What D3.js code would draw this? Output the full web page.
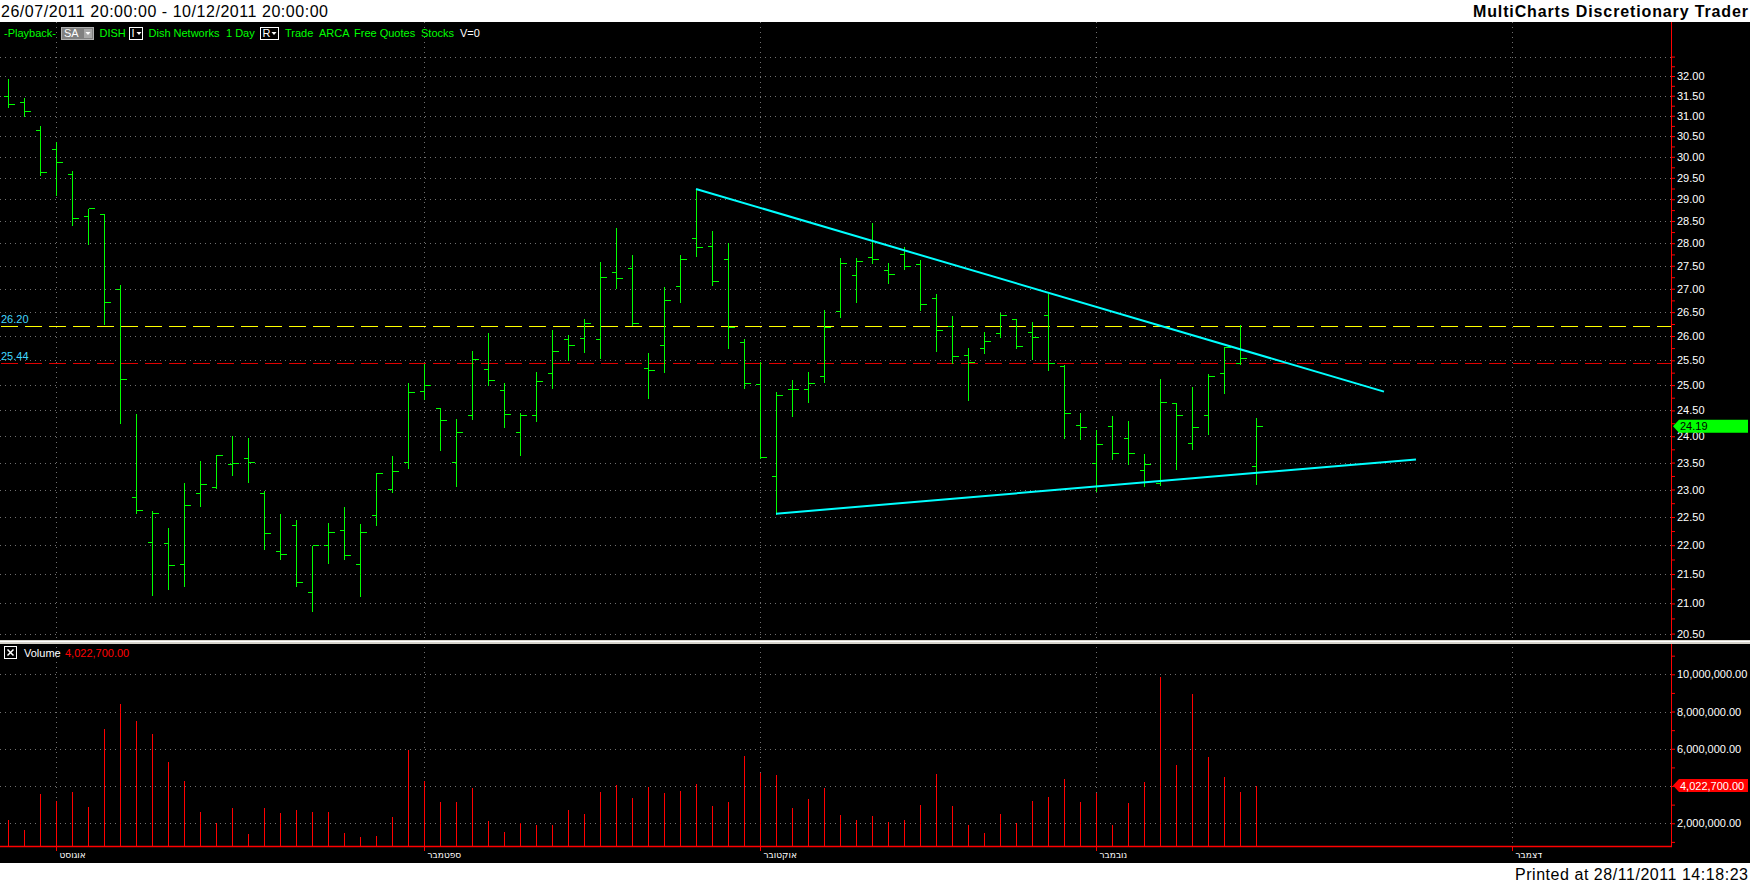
<!DOCTYPE html>
<html>
<head>
<meta charset="utf-8">
<script src="https://cdn.jsdelivr.net/npm/d3@7"></script>
<style>
body { margin: 0; background: #000; }
</style>
</head>
<body>
<script>
// DISH daily bars, 27/07/2011 .. 15/11/2011 (bar index 0..78)
const barOpen = [31.50,31.33,30.66,30.18,29.59,28.61,28.67,27.00,22.87,22.06,
  22.04,21.68,22.94,23.05,23.47,23.58,22.94,21.90,22.35,21.19,
  22.01,22.27,21.68,22.54,23.01,23.51,24.88,24.54,23.51,24.41,
  25.32,24.90,24.08,24.41,25.24,25.94,25.95,25.94,27.37,27.45,
  25.34,25.81,27.05,28.11,27.94,27.64,25.88,25.03,23.25,24.92,
  24.92,25.18,26.53,27.29,27.70,27.41,27.76,27.54,26.80,26.21,
  25.60,25.75,26.06,26.35,26.08,26.45,25.38,24.21,23.49,24.19,
  23.96,23.36,23.12,24.64,23.87,24.41,25.24,25.45,23.44];
const barHigh = [31.96,31.48,30.76,30.37,29.69,28.80,28.67,27.10,24.45,22.63,
  22.33,23.13,23.54,23.67,24.03,23.99,23.00,22.58,22.47,22.00,
  22.41,22.70,22.40,23.33,23.65,25.07,25.44,24.54,24.35,25.71,
  26.09,25.07,24.46,25.29,26.15,26.04,26.37,27.60,28.36,27.75,
  25.67,27.06,27.77,29.24,28.30,28.02,25.96,25.49,24.88,25.12,
  25.29,26.56,27.70,27.70,28.48,27.59,27.94,27.65,26.90,26.45,
  25.77,26.11,26.50,26.35,26.31,26.91,25.42,24.47,24.14,24.41,
  24.31,23.69,25.14,24.66,24.98,25.25,25.79,26.24,24.37];
const barLow = [31.25,31.03,29.60,29.12,28.43,28.00,26.28,24.28,22.59,21.16,
  21.26,21.31,22.71,23.05,23.28,23.16,21.95,21.78,21.31,20.89,
  21.71,21.78,21.15,22.37,22.97,23.42,24.74,23.76,23.09,24.36,
  25.02,24.20,23.66,24.32,24.96,25.52,25.69,25.57,27.04,26.24,
  24.76,25.29,26.73,27.74,27.10,25.77,24.96,23.61,22.58,24.42,
  24.69,25.08,26.42,26.73,27.59,27.15,27.45,26.57,25.72,25.46,
  24.73,25.68,25.99,25.78,25.55,25.33,23.99,23.96,22.99,23.58,
  23.50,23.08,23.10,23.40,23.78,24.07,24.86,25.45,23.12];
const barClose = [31.30,31.12,29.64,29.88,28.56,28.79,26.72,25.12,22.62,22.57,
  21.66,22.72,23.11,23.65,23.49,23.51,22.22,21.85,21.37,22.00,
  22.24,21.82,22.24,23.31,23.34,24.87,25.00,24.31,24.08,25.52,
  25.10,24.43,24.42,25.08,25.70,25.81,26.28,27.26,27.24,26.27,
  25.30,26.76,27.64,27.92,27.16,26.18,25.04,23.61,24.81,24.92,
  25.05,26.18,27.57,27.60,27.64,27.31,27.50,26.67,26.13,25.59,
  25.47,25.89,26.43,25.80,25.98,25.45,24.44,24.18,23.85,23.69,
  23.69,23.48,24.66,24.42,24.18,25.19,25.78,25.54,24.19];
const volume = [2180000,1640000,3580000,3200000,3680000,2880000,7070000,8420000,7510000,6800000,
  5290000,4270000,2610000,2020000,2820000,1440000,2820000,2560000,2720000,2610000,
  2610000,1500000,1280000,1320000,2340000,5940000,4270000,3150000,3150000,3900000,
  2130000,1530000,2020000,1910000,1910000,2720000,2520000,3680000,4060000,3360000,
  3950000,3630000,3730000,4110000,2930000,3150000,5620000,4690000,4600000,2820000,
  3310000,3900000,2450000,2180000,2390000,2070000,2180000,2980000,4650000,2930000,
  1880000,1480000,2500000,2020000,3200000,3410000,4380000,3150000,3630000,1910000,
  3090000,4220000,9860000,5130000,8950000,5560000,4490000,3680000,4022700];

// month ticks: bar index of the first session of each month (December is projected)
const monthLabels = ["אוגוסט", "ספטמבר", "אוקטובר", "נובמבר", "דצמבר"];
const monthIdx = [3, 26, 47, 68, 94];

// drawing tools: [bar index, price]
const trendUpper = [[43, 29.24], [86, 24.87]];
const trendLower = [[48, 22.56], [88, 23.56]];
const levelYellow = 26.20;
const levelRed = 25.44;

const priceTicks = d3.range(20.5, 32.51, 0.25);
const priceGrid = d3.range(20.5, 32.51, 0.5);
const volTicks = d3.range(1e6, 11.01e6, 1e6);
const volGrid = [2e6, 4e6, 6e6, 8e6, 10e6];

function main(){
    const W = 1750, H = 884;
    const axisX = 1671;
    const panelTop = 22, sepY = 640, volBottom = 846, footerY = 863;
    const font = "'Liberation Sans', Arial, sans-serif";
    const green = "#00ff00";

    const svg = d3.select("body").append("svg")
        .attr("width", W)
        .attr("height", H)
        .style("display", "block")
        .attr("font-family", font);

    const xScale = d3.scaleLinear().domain([0, 94]).range([8, 1512]);
    const yPrice = d3.scaleLog().domain([32, 20.5]).range([76, 633.6]);
    const yVol = d3.scaleLinear().domain([0, 1e7]).range([860.5, 674.3]);
    const px = i => Math.round(xScale(i)) + 0.5;
    const py = p => Math.round(yPrice(p)) + 0.5;

    const n = barClose.length;
    const bars = barClose.map((c, i) => ({i, o: barOpen[i], h: barHigh[i], l: barLow[i], c, v: volume[i]}));

    // background bands
    svg.append("rect").attr("width", W).attr("height", H).attr("fill", "#000");
    svg.append("rect").attr("width", W).attr("height", panelTop).attr("fill", "#fff");
    svg.append("rect").attr("y", footerY).attr("width", W).attr("height", H - footerY).attr("fill", "#fff");

    svg.append("text")
        .attr("x", 1).attr("y", 17)
        .attr("font-size", "16px")
        .attr("textLength", 327)
        .text("26/07/2011 20:00:00 - 10/12/2011 20:00:00");
    svg.append("text")
        .attr("x", 1748).attr("y", 17)
        .attr("text-anchor", "end")
        .attr("font-size", "16px")
        .attr("font-weight", "bold")
        .attr("textLength", 275)
        .text("MultiCharts Discretionary Trader");
    svg.append("text")
        .attr("x", 1748).attr("y", 880)
        .attr("text-anchor", "end")
        .attr("font-size", "16px")
        .attr("textLength", 233)
        .text("Printed at 28/11/2011 14:18:23");

    // dotted grid
    const grid = svg.append("g")
        .attr("stroke", "#707070")
        .attr("stroke-dasharray", "1,4")
        .attr("shape-rendering", "crispEdges");
    grid.selectAll(".hp").data(priceGrid).join("line")
        .attr("x1", 0).attr("x2", axisX)
        .attr("y1", d => py(d)).attr("y2", d => py(d));
    grid.selectAll(".hv").data(volGrid).join("line")
        .attr("x1", 0).attr("x2", axisX)
        .attr("y1", d => Math.round(yVol(d)) + 0.5).attr("y2", d => Math.round(yVol(d)) + 0.5);
    grid.selectAll(".vm").data(monthIdx).join("line")
        .attr("x1", d => px(d)).attr("x2", d => px(d))
        .attr("y1", panelTop).attr("y2", volBottom);

    // horizontal levels
    const levels = [{p: levelYellow, col: "#ffff00"}, {p: levelRed, col: "#e00000"}];
    svg.selectAll(".lvl").data(levels).join("line")
        .attr("x1", 1).attr("x2", axisX)
        .attr("y1", d => py(d.p)).attr("y2", d => py(d.p))
        .attr("stroke", d => d.col)
        .attr("stroke-dasharray", "17,7")
        .attr("shape-rendering", "crispEdges");
    svg.selectAll(".lvlt").data(levels).join("text")
        .attr("x", 1).attr("y", d => yPrice(d.p) - 3)
        .attr("font-size", "11px")
        .attr("fill", "#40d8ff")
        .text(d => d.p.toFixed(2));

    // OHLC bars
    const gb = svg.append("g")
        .attr("stroke", green)
        .attr("shape-rendering", "crispEdges");
    gb.selectAll(".hl").data(bars).join("line")
        .attr("x1", d => px(d.i)).attr("x2", d => px(d.i))
        .attr("y1", d => py(d.h)).attr("y2", d => py(d.l) + 1);
    gb.selectAll(".op").data(bars).join("line")
        .attr("x1", d => px(d.i) - 5).attr("x2", d => px(d.i))
        .attr("y1", d => py(d.o)).attr("y2", d => py(d.o));
    gb.selectAll(".cl").data(bars).join("line")
        .attr("x1", d => px(d.i)).attr("x2", d => px(d.i) + 6)
        .attr("y1", d => py(d.c)).attr("y2", d => py(d.c));

    // trend lines
    svg.selectAll(".trend").data([trendUpper, trendLower]).join("line")
        .attr("x1", d => xScale(d[0][0])).attr("y1", d => yPrice(d[0][1]))
        .attr("x2", d => xScale(d[1][0])).attr("y2", d => yPrice(d[1][1]))
        .attr("stroke", "#00ffff")
        .attr("stroke-width", 2);

    // volume
    svg.append("g")
        .attr("stroke", "#ff0000")
        .attr("shape-rendering", "crispEdges")
        .selectAll("line").data(bars).join("line")
        .attr("x1", d => px(d.i)).attr("x2", d => px(d.i))
        .attr("y1", volBottom).attr("y2", d => Math.round(yVol(d.v)));

    // right axis
    const fmt2 = d3.format(".2f");
    const pAxis = svg.append("g")
        .attr("transform", `translate(${axisX},0)`)
        .call(d3.axisRight(yPrice).tickValues(priceTicks).tickSize(4).tickPadding(2)
            .tickFormat(d => (Math.round(d * 4) % 2 === 0 && d < 32.25) ? fmt2(d) : ""));
    const vAxis = svg.append("g")
        .attr("transform", `translate(${axisX},0)`)
        .call(d3.axisRight(yVol).tickValues(volTicks).tickSize(4).tickPadding(2)
            .tickFormat(d => (Math.round(d / 1e6) % 2 === 0) ? d3.format(",.2f")(d) : ""));
    [pAxis, vAxis].forEach(a => {
        a.attr("color", "#ff0000").attr("font-family", font).attr("font-size", 11);
        a.select(".domain").remove();
        a.selectAll("text").attr("fill", "#ffffff");
    });
    svg.append("line")
        .attr("x1", axisX + 0.5).attr("x2", axisX + 0.5)
        .attr("y1", panelTop).attr("y2", volBottom + 1)
        .attr("stroke", "#ff0000");

    // bottom axis
    svg.append("line")
        .attr("x1", 0).attr("x2", axisX + 1)
        .attr("y1", volBottom + 0.5).attr("y2", volBottom + 0.5)
        .attr("stroke", "#ff0000").attr("stroke-width", 1.5);
    const xAxis = svg.append("g")
        .attr("transform", `translate(0,${volBottom})`)
        .call(d3.axisBottom(xScale).tickValues(monthIdx).tickSize(5).tickPadding(2)
            .tickFormat(d => monthLabels[monthIdx.indexOf(d)]));
    xAxis.attr("color", "#ff0000").attr("font-family", "'DejaVu Sans', sans-serif").attr("font-size", 9);
    xAxis.select(".domain").remove();
    xAxis.selectAll("text").attr("fill", "#fff").attr("text-anchor", "start").attr("x", 3).attr("y", 6);

    // panel separator
    svg.append("rect").attr("x", 0).attr("y", sepY).attr("width", W).attr("height", 4).attr("fill", "#d6d3ca");
    svg.append("line").attr("x1", 0).attr("x2", W).attr("y1", sepY + 1.5).attr("y2", sepY + 1.5).attr("stroke", "#ffffff");

    // last value markers
    const markers = [
        {y: yPrice(barClose[n - 1]), fill: green, col: "#000", txt: fmt2(barClose[n - 1])},
        {y: yVol(volume[n - 1]), fill: "#ff0000", col: "#fff", txt: d3.format(",.2f")(volume[n - 1])}
    ];
    const mk = svg.selectAll(".mk").data(markers).join("g");
    mk.append("polygon")
        .attr("points", d => [[axisX + 2, d.y], [axisX + 8, d.y - 6.5], [1748, d.y - 6.5], [1748, d.y + 6.5], [axisX + 8, d.y + 6.5]].join(" "))
        .attr("fill", d => d.fill);
    mk.append("text")
        .attr("x", axisX + 9).attr("y", d => d.y + 4)
        .attr("font-size", "11px")
        .attr("fill", d => d.col)
        .text(d => d.txt);

    // toolbar
    const tb = svg.append("g").attr("font-size", "11px");
    const tbY = 37;
    tb.append("text").attr("x", 4).attr("y", tbY).attr("fill", green).text("-Playback-");
    tb.append("rect").attr("x", 61.5).attr("y", 27.5).attr("width", 32).attr("height", 12)
        .attr("fill", "#808080").attr("stroke", "#b0b0b0");
    tb.append("text").attr("x", 64).attr("y", tbY).attr("fill", "#fff").text("SA");
    tb.append("rect").attr("x", 84).attr("y", 29).attr("width", 8).attr("height", 9).attr("fill", "#a8a8a8");
    tb.append("path").attr("d", "M85.5,32 L90.5,32 L88,35 Z").attr("fill", "#fff");
    tb.append("text").attr("x", 99.5).attr("y", tbY).attr("fill", green).text("DISH");
    [{x: 129.5, t: "I"}, {x: 260.5, t: "R"}].forEach(b => {
        tb.append("rect").attr("x", b.x).attr("y", 27.5).attr("width", b.t === "I" ? 13 : 18).attr("height", 12)
            .attr("fill", "#000").attr("stroke", "#fff");
        tb.append("text").attr("x", b.x + 2).attr("y", tbY).attr("fill", "#fff").text(b.t);
        const ax = b.x + (b.t === "I" ? 7 : 11);
        tb.append("path").attr("d", `M${ax},32 L${ax + 5},32 L${ax + 2.5},35 Z`).attr("fill", "#fff");
    });
    const items = [["Dish Networks", 148.5], ["1 Day", 226], ["Trade", 285], ["ARCA", 319], ["Free Quotes", 354], ["Stocks", 421]];
    tb.selectAll(".it").data(items).join("text")
        .attr("x", d => d[1]).attr("y", tbY).attr("fill", green).text(d => d[0]);
    tb.append("text").attr("x", 460).attr("y", tbY).attr("fill", "#fff").text("V=0");

    // volume caption
    const vc = svg.append("g").attr("font-size", "11px");
    vc.append("rect").attr("x", 4.5).attr("y", 646.5).attr("width", 12).attr("height", 12)
        .attr("fill", "none").attr("stroke", "#fff");
    vc.append("path").attr("d", "M7.5,649.5 L13.5,655.5 M13.5,649.5 L7.5,655.5").attr("stroke", "#fff").attr("stroke-width", 1.5);
    vc.append("text").attr("x", 24).attr("y", 657).attr("fill", "#fff").text("Volume");
    vc.append("text").attr("x", 65).attr("y", 657).attr("fill", "#ff0000").text(d3.format(",.2f")(volume[n - 1]));
}
main();
</script>
</body>
</html>
